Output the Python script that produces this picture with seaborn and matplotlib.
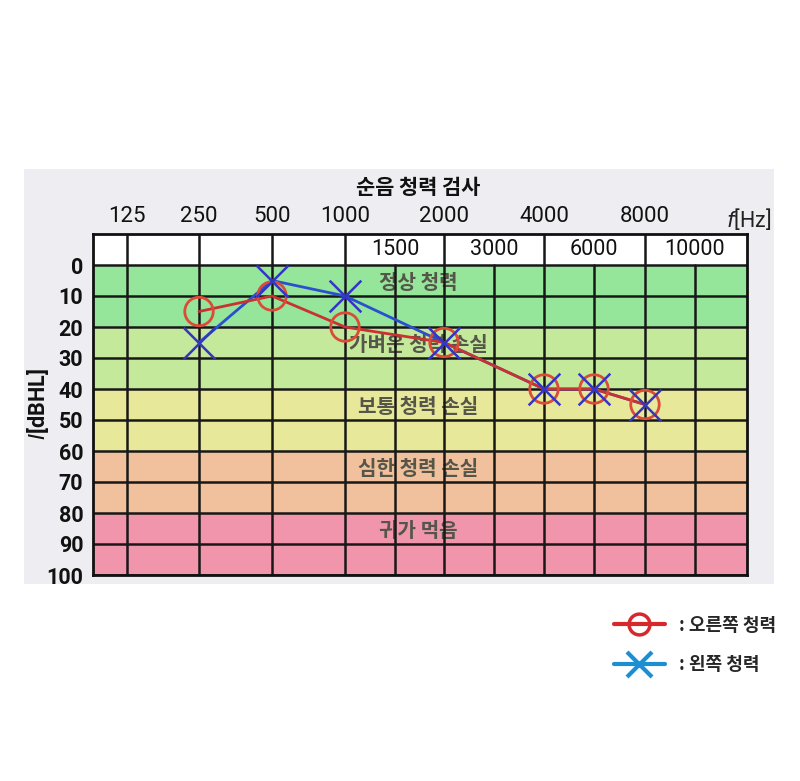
import numpy as np
import matplotlib
matplotlib.use('Agg')
import matplotlib.pyplot as plt
from matplotlib.lines import Line2D
from matplotlib.patches import Rectangle
import seaborn as sns

# audiogram data
freqs = [250, 500, 1000, 2000, 4000, 6000, 8000]
right_ear = [15, 10, 20, 25, 40, 40, 45]
left_ear = [25, 5, 10, 25, 40, 40, 45]

octave_ticks = [125, 250, 500, 1000, 2000, 4000, 8000]
half_ticks = [1500, 3000, 6000, 10000]
db_ticks = list(range(0, 101, 10))

band_edges = [0, 20, 40, 60, 80, 100]
band_labels = ['정상 청력', '가벼운 청력 손실', '보통 청력 손실', '심한 청력 손실', '귀가 먹음']
band_colors = ['#95e69a', '#c4e99a', '#e8e89a', '#f0c19c', '#f095ac']

# frequency axis of the chart: octaves left of 1000 Hz are narrower than right
knot_f = np.array([62.5, 125, 250, 500, 1000, 1500, 2000, 3000, 4000, 6000, 8000, 10000, 20000])
knot_p = np.array([54, 127, 199, 272, 345, 395, 444, 494, 544, 594, 645, 695, 795], dtype=float)
knot_l = np.log2(knot_f)


def fwd(f):
    f = np.clip(np.asarray(f, dtype=float), 1e-6, None)
    return np.interp(np.log2(f), knot_l, knot_p)


def inv(p):
    return 2 ** np.interp(np.asarray(p, dtype=float), knot_p, knot_l)


sns.set_style('white')
plt.rcParams['font.family'] = ['Roboto', 'Noto Sans CJK KR', 'DejaVu Sans']
KR = ['Noto Sans CJK KR', 'DejaVu Sans']

fig = plt.figure(figsize=(8, 7.81), dpi=100)
bg = Rectangle((24 / 800, 1 - 584 / 781), 750 / 800, 415 / 781,
               transform=fig.transFigure, facecolor='#eeedf1',
               edgecolor='none', zorder=-5)
fig.patches.append(bg)
ax = fig.add_axes([93 / 800, 1 - 575 / 781, 654 / 800, 341 / 781])
ax.set_zorder(2)
ax.set_facecolor('white')
ax.set_xscale('function', functions=(fwd, inv))
ax.set_xlim(float(inv(93)), float(inv(747)))
ax.set_ylim(100, -10)

for lo, hi, lab, col in zip(band_edges[:-1], band_edges[1:], band_labels, band_colors):
    ax.axhspan(lo, hi, color=col, lw=0, zorder=0)
    ax.text(0.497, (lo + hi) / 2 - 4.2, lab, transform=ax.get_yaxis_transform(),
            ha='center', va='center', fontsize=14.5, color='#55554a',
            family=KR, fontweight='bold', zorder=1)

grid_kw = dict(color='#181818', lw=1.8, zorder=1.5)
for y in db_ticks:
    ax.axhline(y, **grid_kw)
for f in octave_ticks:
    ax.axvline(f, **grid_kw)
for f in half_ticks:
    ax.axvline(f, ymin=0, ymax=100 / 110, **grid_kw)
    ax.text(f, -5, str(f), ha='center', va='center', fontsize=15.5, color='#111111')

# lines first, then markers (X drawn over circles)
sns.lineplot(x=freqs, y=left_ear, color='#2a4fd0', lw=2, ax=ax, zorder=3)
sns.lineplot(x=freqs, y=right_ear, color='#c83232', lw=2, ax=ax, zorder=3.5)
sns.scatterplot(x=freqs, y=right_ear, marker='o', s=420, facecolor='none',
                edgecolor='#dc4a38', linewidth=2, ax=ax, zorder=4)
sns.scatterplot(x=freqs, y=left_ear, marker='x', s=520, color='#3535c4',
                linewidth=1.8, ax=ax, zorder=5)

ax.xaxis.tick_top()
ax.set_xticks(octave_ticks)
ax.set_xticklabels([str(t) for t in octave_ticks])
ax.xaxis.set_minor_locator(matplotlib.ticker.NullLocator())
ax.set_yticks(db_ticks)
ax.set_yticklabels([str(t) for t in db_ticks])
ax.tick_params(axis='x', length=0, pad=5, labelsize=16, colors='#111111')
ax.tick_params(axis='y', length=0, pad=7, labelsize=15.5, colors='#111111')
for t in ax.get_yticklabels():
    t.set_fontweight('bold')
ax.set_xlabel('')
ax.set_ylabel('')
for s in ax.spines.values():
    s.set_color('#111111')
    s.set_linewidth(2)
    s.set_zorder(6)

fig.text(771 / 800, 1 - 219 / 781, '$f$[Hz]', ha='right', va='center',
         fontsize=15.5, color='#222222')
fig.text(38 / 800, 1 - 404 / 781, '$I$[dBHL]', rotation=90, ha='center', va='center',
         fontsize=15.5, color='#111111', fontweight='bold')
fig.text(418 / 800, 1 - 187 / 781, '순음 청력 검사', ha='center', va='center',
         fontsize=15, family=KR, fontweight='bold', color='#111111')

handles = [Line2D([], [], color='#d6282d', lw=3, marker='o', markersize=15,
                  markerfacecolor='none', markeredgewidth=2.5),
           Line2D([], [], color='#1c8fd4', lw=3, marker='x', markersize=18,
                  markeredgewidth=3)]
fig.legend(handles, [': 오른쪽 청력', ': 왼쪽 청력'], loc='center left',
           bbox_to_anchor=(605 / 800, 1 - 645 / 781), frameon=False,
           handlelength=2.8, handletextpad=0.8, labelspacing=1.15, borderpad=0,
           prop={'family': KR, 'size': 13, 'weight': 'bold'})

fig.savefig('out.png', dpi=100)
